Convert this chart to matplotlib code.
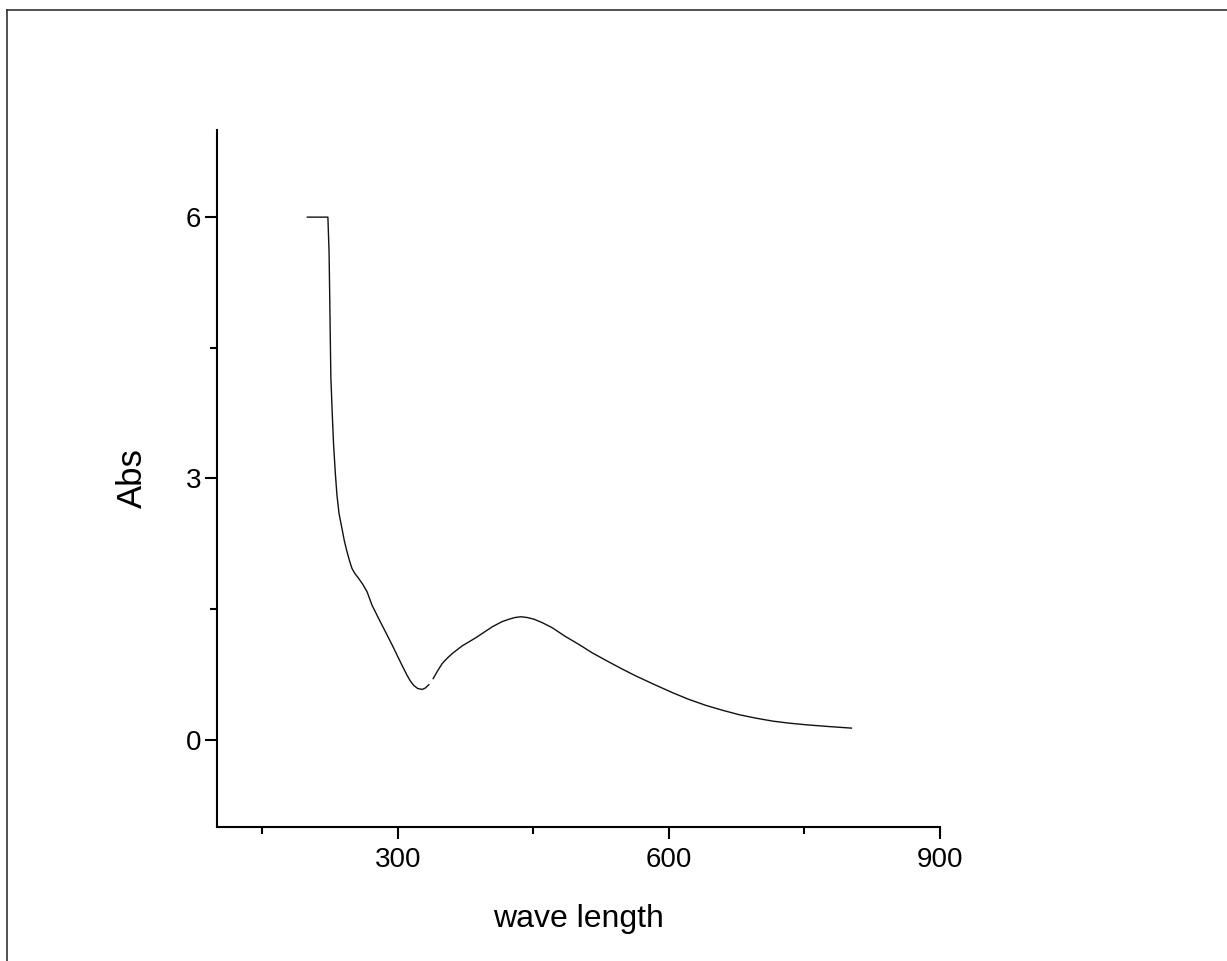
import matplotlib

matplotlib.use("Agg")
import matplotlib.pyplot as plt
from matplotlib.lines import Line2D
from matplotlib.ticker import MultipleLocator
import numpy as np

# Spectrum (nan marks the small gap in the trace)
wavelength = [200, 222.7, 224.0, 224.6, 225.3, 226.0, 227.5, 229.0, 231.0, 232.7,
              235.0, 238.2, 241.0, 243.8, 246.5, 249.3, 252.5, 256.7, 261.0,
              266.0, 271.5, 279.0, 286.4, 294.0, 301.1, 305.5, 310.3, 314.0,
              317.7, 322.0, 327.0, 330.5, 334.4, np.nan,
              339.2, 344.0, 349.1, 355.0, 360.2, 371.3, 386.2, 404.6, 415.0,
              423.1, 430.0, 436.1, 443.0, 450.8, 460.0, 471.1, 485.0, 500.7,
              515.0, 530.3, 547.0, 563.6, 584.0, 604.2, 622.0, 641.2, 660.0,
              678.1, 697.0, 715.1, 733.0, 752.1, 777.0, 802.0]
absorbance = [6.0, 6.0, 5.6, 5.18, 4.65, 4.157, 3.75, 3.389, 3.05, 2.813,
              2.60, 2.430, 2.28, 2.162, 2.06, 1.969, 1.91, 1.854, 1.79,
              1.701, 1.547, 1.39, 1.240, 1.085, 0.933, 0.84, 0.741, 0.675,
              0.625, 0.59, 0.579, 0.595, 0.633, np.nan,
              0.703, 0.79, 0.875, 0.94, 0.990, 1.079, 1.171, 1.298, 1.355,
              1.385, 1.405, 1.413, 1.405, 1.385, 1.345, 1.286, 1.19, 1.094,
              1.0, 0.913, 0.82, 0.733, 0.635, 0.541, 0.465, 0.395, 0.338,
              0.288, 0.248, 0.215, 0.192, 0.173, 0.153, 0.135]

plt.rcParams["font.family"] = ["Liberation Sans", "DejaVu Sans"]

W, H = 1227, 961
fig = plt.figure(figsize=(W / 100, H / 100), dpi=100)
ax = fig.add_axes([217 / W, 1 - 827 / H, 723 / W, 697 / H])

ax.plot(wavelength, absorbance, color="#111111", linewidth=1.0)

ax.set_xlim(100, 900)
ax.set_ylim(-1, 7)
ax.xaxis.set_major_locator(MultipleLocator(300))
ax.xaxis.set_minor_locator(MultipleLocator(150))
ax.yaxis.set_major_locator(MultipleLocator(3))
ax.yaxis.set_minor_locator(MultipleLocator(1.5))

for side in ["top", "right"]:
    ax.spines[side].set_visible(False)
for side in ["left", "bottom"]:
    ax.spines[side].set_linewidth(1.5)

ax.tick_params(which="major", direction="out", length=8.5, width=1.5, labelsize=20)
ax.tick_params(which="minor", direction="out", length=5, width=1.5)
ax.tick_params(axis="x", which="major", pad=6)
ax.tick_params(axis="y", which="major", pad=3)

ax.set_xlabel("wave length", fontsize=23, labelpad=22)
ax.set_ylabel("Abs", fontsize=25, labelpad=26)

# frame around the page (only top and left edges are visible)
fig.add_artist(Line2D([6.5 / W, 6.5 / W], [0, 1 - 9.5 / H], transform=fig.transFigure,
                      color="#222222", linewidth=1.1))
fig.add_artist(Line2D([6.5 / W, 1], [1 - 9.5 / H, 1 - 9.5 / H], transform=fig.transFigure,
                      color="#222222", linewidth=1.1))

fig.savefig("out.png", dpi=100)
